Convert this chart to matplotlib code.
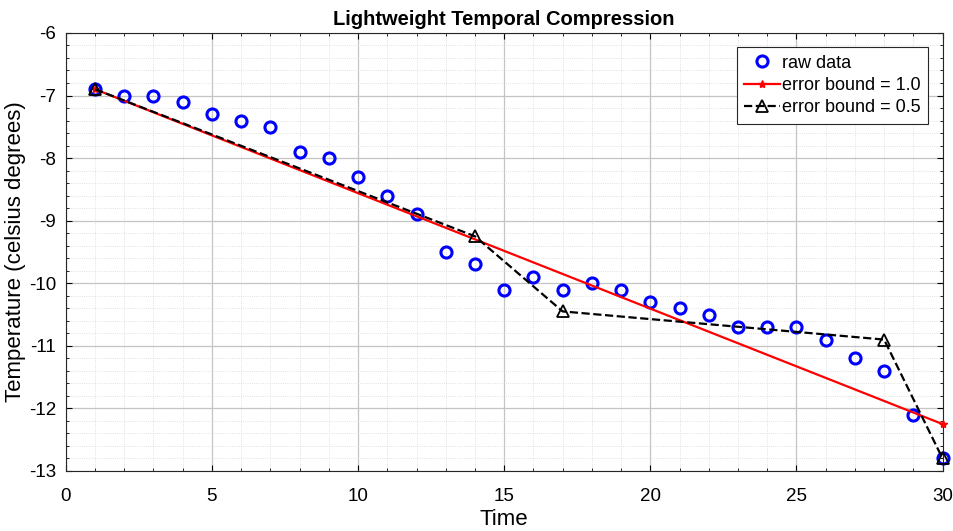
import matplotlib.pyplot as plt
from matplotlib.ticker import MultipleLocator

plt.rcParams['font.family'] = ['Liberation Sans', 'DejaVu Sans']
plt.rcParams['axes.unicode_minus'] = False

# raw temperature samples
time = list(range(1, 31))
temp = [-6.9, -7.0, -7.0, -7.1, -7.3, -7.4, -7.5, -7.9, -8.0, -8.3,
        -8.6, -8.9, -9.5, -9.7, -10.1, -9.9, -10.1, -10.0, -10.1, -10.3,
        -10.4, -10.5, -10.7, -10.7, -10.7, -10.9, -11.2, -11.4, -12.1, -12.8]

# compressed series
eb1_t = [1, 30]
eb1_v = [-6.9, -12.25]
eb05_t = [1, 14, 17, 28, 30]
eb05_v = [-6.9, -9.25, -10.45, -10.9, -12.8]

fig = plt.figure(figsize=(9.54, 5.31), dpi=100)
ax = fig.add_axes([0.069, 0.113, 0.919, 0.825])

ax.plot(time, temp, 'o', color='blue', mfc='none', mew=2.2, ms=8, label='raw data',
        clip_on=False, zorder=3)
ax.plot(eb1_t, eb1_v, '-*', color='red', lw=1.6, ms=6, label='error bound = 1.0',
        clip_on=False, zorder=4)
ax.plot(eb05_t, eb05_v, '--^', color='black', lw=1.6, ms=8, mfc='none', mew=1.3,
        label='error bound = 0.5', clip_on=False, zorder=5)

ax.set_xlim(0, 30)
ax.set_ylim(-13, -6)
ax.xaxis.set_major_locator(MultipleLocator(5))
ax.xaxis.set_minor_locator(MultipleLocator(1))
ax.yaxis.set_major_locator(MultipleLocator(1))
ax.yaxis.set_minor_locator(MultipleLocator(0.2))
ax.grid(True, which='major', color='#c4c4c4', lw=0.9)
ax.grid(True, which='minor', color='#d8d8d8', lw=0.6, ls=':')
ax.set_axisbelow(True)
ax.tick_params(which='both', direction='in', top=True, right=True, labelsize=13.5)
ax.tick_params(axis='x', which='both', pad=12)
ax.tick_params(axis='y', which='both', pad=7)
ax.tick_params(which='major', length=4)
ax.tick_params(which='minor', length=2)
for s in ax.spines.values():
    s.set_color('#262626')
    s.set_linewidth(0.8)

ax.set_title('Lightweight Temporal Compression', fontsize=14.5, fontweight='bold', pad=6)
ax.set_xlabel('Time', fontsize=16, labelpad=3)
ax.set_ylabel('Temperature (celsius degrees)', fontsize=16, labelpad=2)

leg = ax.legend(loc='upper right', fontsize=13, fancybox=False, framealpha=1,
                edgecolor='#262626', handlelength=2.0, handletextpad=0.1,
                borderaxespad=0.8, labelspacing=0.3, borderpad=0.4)
leg.get_frame().set_linewidth(0.8)

fig.savefig('out.png', dpi=100)
